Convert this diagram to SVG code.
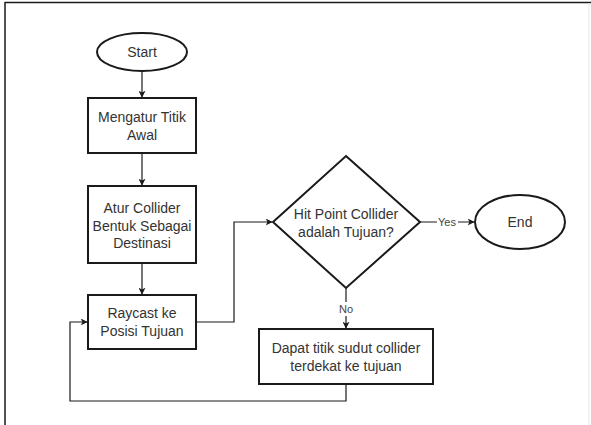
<svg xmlns="http://www.w3.org/2000/svg" width="591" height="425" viewBox="0 0 591 425">
  <style>
    .shape { fill: #ffffff; stroke: #1a1a1a; stroke-width: 2; }
    .conn { fill: none; stroke: #1a1a1a; stroke-width: 1.2; }
    .label { font-family: "Liberation Sans", Arial, sans-serif; font-size: 14px; fill: #333333; text-anchor: middle; dominant-baseline: central; }
    .edge-label { font-family: "Liberation Sans", Arial, sans-serif; font-size: 11px; fill: #444444; text-anchor: middle; dominant-baseline: central; }
  </style>
  <defs>
    <marker id="arrow" viewBox="0 0 10 10" refX="9" refY="5" markerWidth="7" markerHeight="7" orient="auto" markerUnits="userSpaceOnUse">
      <path d="M0,0 L10,5 L0,10 L2.5,5 Z" fill="#1a1a1a"/>
    </marker>
  </defs>

  <rect x="0" y="0" width="591" height="425" fill="#ffffff"/>
  <!-- frame -->
  <line x1="5" y1="2.5" x2="591" y2="2.5" stroke="#1a1a1a" stroke-width="1.5"/>
  <line x1="5" y1="2" x2="5" y2="425" stroke="#1a1a1a" stroke-width="1.5"/>
  <line x1="589" y1="3" x2="589" y2="425" stroke="#e6e6e6" stroke-width="1"/>

  <g id="connectors">
    <line class="conn" x1="142" y1="71" x2="142" y2="97" marker-end="url(#arrow)"/>
    <line class="conn" x1="142" y1="153" x2="142" y2="185" marker-end="url(#arrow)"/>
    <line class="conn" x1="142" y1="263" x2="142" y2="294" marker-end="url(#arrow)"/>
    <polyline class="conn" points="196,322 234,322 234,222 272,222" marker-end="url(#arrow)"/>
    <polyline class="conn" points="420,222 474,222" marker-end="url(#arrow)"/>
    <rect x="437" y="215" width="21" height="14" fill="#ffffff"/>
    <text class="edge-label" x="447" y="222">Yes</text>
    <line class="conn" x1="346" y1="287" x2="346" y2="328" marker-end="url(#arrow)"/>
    <rect x="338" y="302" width="16" height="14" fill="#ffffff"/>
    <text class="edge-label" x="346" y="309">No</text>
    <polyline class="conn" points="346,384 346,401 70,401 70,322 87,322" marker-end="url(#arrow)"/>
  </g>

  <g id="start">
    <ellipse class="shape" cx="142" cy="52" rx="45" ry="19"/>
    <text class="label" x="142" y="52">Start</text>
  </g>

  <g id="set-origin">
    <rect class="shape" x="88" y="98" width="108" height="55"/>
    <text class="label" x="142" y="117">Mengatur Titik</text>
    <text class="label" x="142" y="135">Awal</text>
  </g>

  <g id="set-collider">
    <rect class="shape" x="88" y="186" width="108" height="77"/>
    <text class="label" x="142" y="208">Atur Collider</text>
    <text class="label" x="142" y="226">Bentuk Sebagai</text>
    <text class="label" x="142" y="243">Destinasi</text>
  </g>

  <g id="raycast">
    <rect class="shape" x="88" y="295" width="108" height="54"/>
    <text class="label" x="142" y="313">Raycast ke</text>
    <text class="label" x="142" y="331">Posisi Tujuan</text>
  </g>

  <g id="decision">
    <polygon class="shape" points="346,156 420,222 346,288 273,222"/>
    <text class="label" x="346" y="214">Hit Point Collider</text>
    <text class="label" x="346" y="232">adalah Tujuan?</text>
  </g>

  <g id="end">
    <ellipse class="shape" cx="520" cy="222" rx="45" ry="27"/>
    <text class="label" x="520" y="222">End</text>
  </g>

  <g id="nearest-corner">
    <rect class="shape" x="259" y="329" width="174" height="55"/>
    <text class="label" x="346" y="348">Dapat titik sudut collider</text>
    <text class="label" x="346" y="366">terdekat ke tujuan</text>
  </g>
</svg>
